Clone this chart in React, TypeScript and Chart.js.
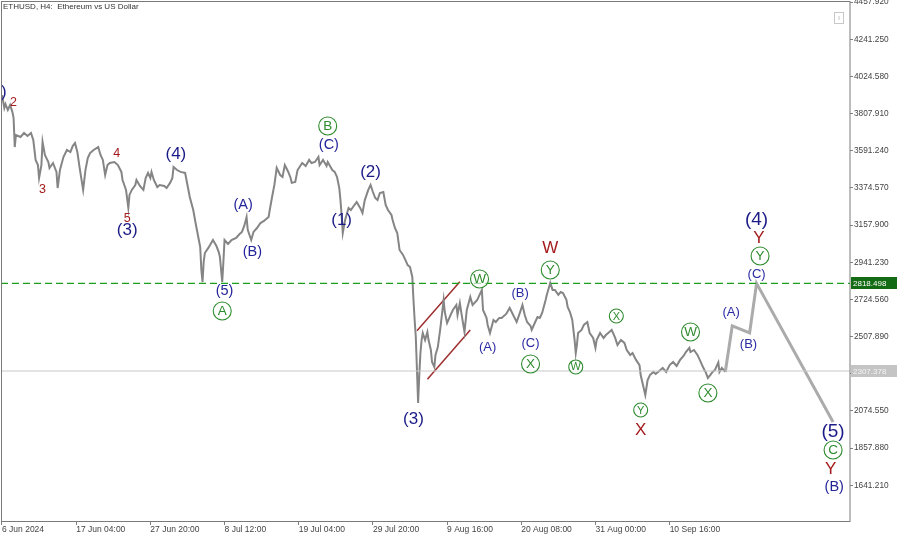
import React, { useEffect, useRef } from "react";
import { Chart, registerables } from "chart.js";
Chart.register(...registerables);

// ---- time axis (H4 bar index) ----
const timeTickBars = [0, 64, 128, 192, 256, 320, 384, 448, 512, 576];
const timeTickLabels = ["6 Jun 2024", "17 Jun 04:00", "27 Jun 20:00", "8 Jul 12:00", "19 Jul 04:00", "29 Jul 20:00", "9 Aug 16:00", "20 Aug 08:00", "31 Aug 00:00", "10 Sep 16:00"];
const priceTicks = [4457.92, 4241.25, 4024.58, 3807.91, 3591.24, 3374.57, 3157.9, 2941.23, 2724.56, 2507.89, 2291.22, 2074.55, 1857.88, 1641.21];

// ---- ETHUSD price path ----
const priceBars = [0, 2, 3, 5, 7, 9, 10, 11, 12, 16, 19, 22, 25, 27, 28, 29, 31, 32, 34, 35, 37, 40, 41, 44, 47, 48, 50, 53, 56, 59, 61, 63, 65, 67, 70, 72, 74, 76, 79, 83, 85, 87, 89, 91, 93, 97, 100, 103, 104, 107, 109, 110, 112, 115, 116, 119, 122, 124, 126, 128, 129, 131, 134, 136, 140, 142, 145, 147, 148, 151, 154, 158, 160, 162, 165, 167, 169, 171, 172, 173, 174, 175, 178, 180, 182, 185, 187, 188, 190, 191, 192, 195, 198, 202, 205, 207, 209, 211, 212, 215, 217, 220, 223, 226, 230, 231, 233, 235, 237, 240, 242, 244, 247, 249, 250, 253, 255, 259, 262, 265, 267, 270, 273, 274, 277, 280, 281, 285, 287, 289, 291, 292, 293, 294, 296, 299, 301, 304, 306, 309, 311, 313, 316, 318, 320, 322, 324, 326, 329, 331, 333, 336, 337, 339, 341, 343, 346, 348, 350, 352, 354, 355, 356, 357, 358, 359, 360, 361, 362, 363, 365, 367, 368, 370, 371, 373, 374, 376, 378, 380, 381, 382, 384, 387, 389, 392, 393, 395, 397, 399, 401, 404, 406, 410, 412, 414, 415, 418, 419, 421, 424, 426, 429, 431, 435, 438, 441, 444, 447, 449, 451, 453, 456, 457, 460, 462, 464, 466, 469, 470, 472, 473, 475, 477, 480, 482, 484, 487, 488, 490, 492, 494, 495, 496, 497, 500, 502, 505, 507, 510, 512, 513, 516, 519, 521, 524, 526, 529, 531, 534, 537, 539, 542, 544, 547, 550, 551, 553, 555, 557, 559, 562, 564, 568, 570, 573, 576, 579, 582, 585, 588, 590, 593, 594, 597, 600, 602, 604, 606, 607, 609, 611, 613, 615, 618, 619, 621, 624];
const priceValues = [3916, 3841, 3864, 3829, 3858, 3817, 3782, 3613, 3683, 3672, 3695, 3678, 3695, 3654, 3596, 3538, 3508, 3433, 3508, 3643, 3567, 3526, 3491, 3520, 3468, 3374, 3479, 3555, 3596, 3584, 3619, 3637, 3584, 3491, 3363, 3479, 3549, 3578, 3596, 3613, 3567, 3538, 3450, 3508, 3520, 3526, 3508, 3468, 3421, 3363, 3258, 3334, 3363, 3392, 3421, 3386, 3363, 3433, 3462, 3433, 3468, 3421, 3380, 3392, 3386, 3374, 3404, 3433, 3497, 3479, 3468, 3462, 3392, 3322, 3246, 3170, 3100, 3030, 2896, 2826, 2943, 2995, 3025, 3048, 3071, 3036, 3001, 2972, 2826, 2943, 3071, 3048, 3071, 3083, 3106, 3118, 3153, 3205, 3130, 3071, 3118, 3141, 3170, 3182, 3205, 3246, 3322, 3392, 3491, 3450, 3439, 3508, 3468, 3433, 3404, 3409, 3479, 3520, 3503, 3538, 3520, 3526, 3555, 3508, 3538, 3503, 3526, 3479, 3468, 3439, 3374, 3304, 3217, 3112, 3188, 3258, 3246, 3275, 3293, 3258, 3229, 3304, 3363, 3392, 3351, 3316, 3304, 3345, 3351, 3275, 3246, 3217, 3188, 3141, 3112, 3013, 2984, 2955, 2925, 2914, 2856, 2721, 2605, 2506, 2313, 2121, 2284, 2412, 2488, 2529, 2488, 2535, 2488, 2430, 2360, 2331, 2401, 2447, 2547, 2663, 2721, 2651, 2587, 2634, 2663, 2692, 2634, 2704, 2617, 2535, 2663, 2739, 2692, 2721, 2751, 2780, 2663, 2617, 2576, 2529, 2605, 2593, 2617, 2617, 2640, 2675, 2634, 2593, 2651, 2692, 2634, 2593, 2570, 2547, 2593, 2622, 2617, 2646, 2721, 2751, 2797, 2821, 2780, 2780, 2751, 2768, 2762, 2721, 2681, 2651, 2605, 2488, 2412, 2459, 2529, 2547, 2576, 2593, 2529, 2500, 2442, 2488, 2529, 2500, 2517, 2535, 2547, 2500, 2459, 2488, 2471, 2430, 2401, 2412, 2372, 2342, 2284, 2226, 2168, 2255, 2284, 2302, 2290, 2313, 2325, 2302, 2342, 2360, 2337, 2372, 2395, 2418, 2442, 2418, 2430, 2401, 2372, 2342, 2313, 2302, 2267, 2284, 2302, 2313, 2358, 2302, 2325, 2302];

// ---- projected path ----
const forecastBars = [624, 630, 645, 651, 717];
const forecastValues = [2302, 2570, 2529, 2818.498, 2010];

// ---- channel lines ----
const channelUpperBars = [358, 395];
const channelUpperValues = [2542, 2828];
const channelLowerBars = [367, 404];
const channelLowerValues = [2259, 2546];

// ---- horizontal levels ----
const targetLevel = 2818.498;
const currentLevel = 2307.378;

// ---- wave labels ----
const waveLabels = [
  { text: "(2)", bar: -5, price: 3934, kind: "P1" },
  { text: "1", bar: -3, price: 3712, kind: "R2" },
  { text: "2", bar: 10, price: 3870, kind: "R2" },
  { text: "3", bar: 35, price: 3363, kind: "R2" },
  { text: "4", bar: 99, price: 3578, kind: "R2" },
  { text: "5", bar: 108, price: 3199, kind: "R2" },
  { text: "(3)", bar: 108, price: 3129, kind: "P1" },
  { text: "(4)", bar: 150, price: 3573, kind: "P1" },
  { text: "(A)", bar: 208, price: 3275, kind: "P2" },
  { text: "(B)", bar: 216, price: 3001, kind: "P2" },
  { text: "(5)", bar: 192, price: 2774, kind: "P2" },
  { text: "A", bar: 190, price: 2657, kind: "C1" },
  { text: "B", bar: 281, price: 3736, kind: "C1" },
  { text: "(C)", bar: 282, price: 3625, kind: "P2" },
  { text: "(2)", bar: 318, price: 3468, kind: "P1" },
  { text: "(1)", bar: 293, price: 3188, kind: "P1" },
  { text: "(3)", bar: 355, price: 2028, kind: "P1" },
  { text: "W", bar: 412, price: 2844, kind: "C1" },
  { text: "(B)", bar: 447, price: 2762, kind: "P3" },
  { text: "(A)", bar: 419, price: 2447, kind: "P3" },
  { text: "(C)", bar: 456, price: 2471, kind: "P3" },
  { text: "X", bar: 456, price: 2348, kind: "C1" },
  { text: "W", bar: 473, price: 3025, kind: "R1" },
  { text: "Y", bar: 473, price: 2896, kind: "C1" },
  { text: "W", bar: 495, price: 2331, kind: "C2" },
  { text: "X", bar: 530, price: 2628, kind: "C2" },
  { text: "Y", bar: 551, price: 2080, kind: "C2" },
  { text: "X", bar: 551, price: 1963, kind: "R1" },
  { text: "W", bar: 594, price: 2535, kind: "C1" },
  { text: "X", bar: 609, price: 2179, kind: "C1" },
  { text: "(A)", bar: 629, price: 2651, kind: "P3" },
  { text: "(B)", bar: 644, price: 2465, kind: "P3" },
  { text: "(C)", bar: 651, price: 2873, kind: "P3" },
  { text: "Y", bar: 654, price: 2978, kind: "C1" },
  { text: "Y", bar: 653, price: 3083, kind: "R1" },
  { text: "(4)", bar: 651, price: 3188, kind: "P0" },
  { text: "(5)", bar: 717, price: 1952, kind: "P0" },
  { text: "C", bar: 717, price: 1847, kind: "C1" },
  { text: "Y", bar: 715, price: 1736, kind: "R1" },
  { text: "(B)", bar: 718, price: 1631, kind: "P2" },
];

const X_MIN = -0.86;
const X_MAX = 731.6;
const Y_MIN = 1432.9;
const Y_MAX = 4464.5;

const FONT = "'Liberation Sans', Arial, sans-serif";
const kindStyle: Record<string, { size: number; color: string; circle?: number }> = {
  P0: { size: 19, color: "#1b1b88" },
  P1: { size: 17, color: "#1b1b88" },
  P2: { size: 14.5, color: "#24249a" },
  P3: { size: 13, color: "#2a2aa2" },
  R1: { size: 17, color: "#a31b1b" },
  R2: { size: 12.5, color: "#a31b1b" },
  C1: { size: 13.5, color: "#2e8b2e", circle: 9 },
  C2: { size: 11, color: "#2e8b2e", circle: 7 },
};

const overlayPlugin = {
  id: "overlay",
  afterDatasetsDraw(chart: any) {
    const { ctx, chartArea, scales } = chart;
    ctx.save();
    ctx.beginPath();
    ctx.rect(chartArea.left, chartArea.top, chartArea.right - chartArea.left, chartArea.bottom - chartArea.top);
    ctx.clip();
    ctx.textAlign = "center";
    ctx.textBaseline = "middle";
    for (const l of waveLabels) {
      const st = kindStyle[l.kind];
      const px = scales.x.getPixelForValue(l.bar);
      const py = scales.y.getPixelForValue(l.price);
      if (st.circle) {
        ctx.beginPath();
        ctx.arc(px, py, st.circle, 0, Math.PI * 2);
        ctx.fillStyle = "rgba(255,255,255,0.6)";
        ctx.fill();
        ctx.lineWidth = 1.1;
        ctx.strokeStyle = st.color;
        ctx.stroke();
      }
      ctx.fillStyle = st.color;
      ctx.font = `${st.size}px ${FONT}`;
      ctx.fillText(l.text, px, py + (st.circle ? 0.5 : 0));
    }
    ctx.restore();
  },
  afterDraw(chart: any) {
    const { ctx, chartArea, scales } = chart;
    ctx.save();
    // frame
    ctx.strokeStyle = "#7a7a7a";
    ctx.lineWidth = 1;
    ctx.strokeRect(chartArea.left + 0.5, chartArea.top + 0.5, chartArea.right - chartArea.left - 0.5, chartArea.bottom - chartArea.top);
    // title
    ctx.fillStyle = "#333";
    ctx.font = `8px ${FONT}`;
    ctx.textAlign = "left";
    ctx.textBaseline = "middle";
    ctx.fillText("ETHUSD, H4:  Ethereum vs US Dollar", 3, 7);
    // small icon top-right
    ctx.strokeStyle = "#c8c8c8";
    ctx.strokeRect(834.5, 12.5, 9, 11);
    ctx.beginPath();
    ctx.moveTo(839, 16);
    ctx.lineTo(839, 20);
    ctx.stroke();
    // price boxes
    const boxes = [
      { v: targetLevel, bg: "#136b13", fg: "#ffffff" },
      { v: currentLevel, bg: "#c4c4c4", fg: "#f4f4f4" },
    ];
    ctx.font = `8px ${FONT}`;
    for (const b of boxes) {
      const py = scales.y.getPixelForValue(b.v);
      ctx.fillStyle = b.bg;
      ctx.fillRect(chartArea.right + 1, Math.round(py) - 6, 46, 12);
      ctx.fillStyle = b.fg;
      ctx.textAlign = "left";
      ctx.fillText(b.v.toFixed(3), chartArea.right + 3, Math.round(py) + 0.5);
    }
    ctx.restore();
  },
};

export default function App() {
  const ref = useRef<HTMLCanvasElement | null>(null);
  useEffect(() => {
    if (!ref.current) return;
    const pts = (bars: number[], vals: number[]) => bars.map((b, i) => ({ x: b, y: vals[i] }));
    const chart = new Chart(ref.current, {
      type: "line",
      data: {
        datasets: [
          { data: [{ x: X_MIN, y: currentLevel }, { x: X_MAX, y: currentLevel }], borderColor: "#c8c8c8", borderWidth: 1, pointRadius: 0 },
          { data: [{ x: X_MIN, y: targetLevel }, { x: X_MAX, y: targetLevel }], borderColor: "#1e9e1e", borderWidth: 1.3, borderDash: [7, 4], pointRadius: 0 },
          { data: pts(priceBars, priceValues), borderColor: "#858585", borderWidth: 2, pointRadius: 0, tension: 0 },
          { data: pts(forecastBars, forecastValues), borderColor: "#ababab", borderWidth: 3, pointRadius: 0, tension: 0 },
          { data: pts(channelUpperBars, channelUpperValues), borderColor: "#9e2f2f", borderWidth: 1.5, pointRadius: 0 },
          { data: pts(channelLowerBars, channelLowerValues), borderColor: "#9e2f2f", borderWidth: 1.5, pointRadius: 0 },
        ],
      },
      options: {
        animation: false,
        responsive: false,
        devicePixelRatio: 1,
        layout: { padding: { left: 1, top: 1, right: 0, bottom: 0 } },
        plugins: { legend: { display: false }, tooltip: { enabled: false } },
        scales: {
          x: {
            type: "linear",
            min: X_MIN,
            max: X_MAX,
            afterBuildTicks: (axis: any) => {
              axis.ticks = timeTickBars.map((v) => ({ value: v }));
            },
            afterFit: (scale: any) => {
              scale.height = 16;
              scale.paddingLeft = 0;
              scale.paddingRight = 0;
              scale.paddingTop = 0;
              scale.paddingBottom = 0;
            },
            ticks: {
              autoSkip: false,
              maxRotation: 0,
              minRotation: 0,
              align: "start",
              padding: 0,
              color: "#444",
              font: { family: FONT, size: 8.5 },
              callback: (value: any) => {
                const i = timeTickBars.indexOf(Number(value));
                return i >= 0 ? timeTickLabels[i] : "";
              },
            },
            grid: { drawOnChartArea: false, drawTicks: true, tickLength: 4, color: "#808080" },
            border: { display: false },
          },
          y: {
            type: "linear",
            position: "right",
            min: Y_MIN,
            max: Y_MAX,
            afterBuildTicks: (axis: any) => {
              axis.ticks = priceTicks.map((v) => ({ value: v }));
            },
            afterFit: (scale: any) => {
              scale.width = 50;
              scale.paddingLeft = 0;
              scale.paddingRight = 0;
              scale.paddingTop = 0;
              scale.paddingBottom = 0;
            },
            ticks: {
              autoSkip: false,
              padding: 1,
              color: "#444",
              font: { family: FONT, size: 8.3 },
              callback: (value: any) => Number(value).toFixed(3),
            },
            grid: { drawOnChartArea: false, drawTicks: true, tickLength: 3, color: "#808080" },
            border: { display: false },
          },
        },
      },
      plugins: [overlayPlugin],
    });
    return () => chart.destroy();
  }, []);
  return (
    <div style={{ position: "fixed", left: 0, top: 0, width: 900, height: 537, background: "#fff" }}>
      <canvas ref={ref} width={900} height={537} style={{ display: "block" }} />
    </div>
  );
}
